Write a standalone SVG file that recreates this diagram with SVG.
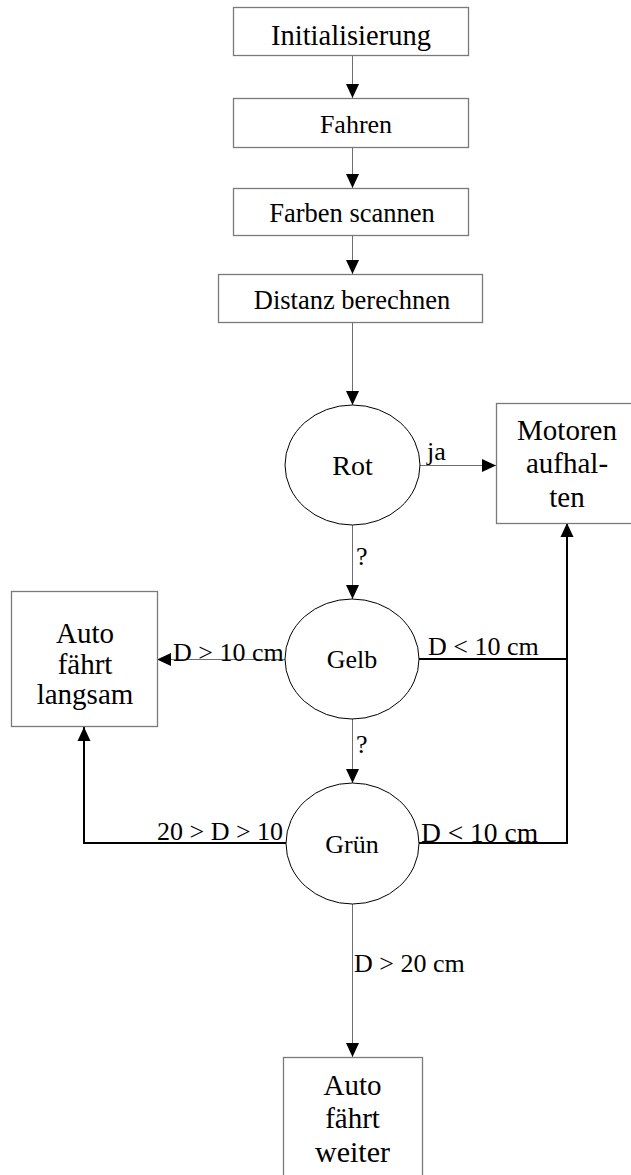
<svg xmlns="http://www.w3.org/2000/svg" width="631" height="1175" viewBox="0 0 631 1175">
<style>
.box{fill:#fff;stroke:#7a7a7a;stroke-width:1.3}
.circ{fill:#fff;stroke:#000;stroke-width:1}
.t{font-family:"Liberation Serif","Times New Roman",serif;fill:#000;text-anchor:middle}
.l{font-family:"Liberation Serif","Times New Roman",serif;fill:#000;font-size:26px}
.thin{fill:none;stroke:#6e6e6e;stroke-width:1}
.thick{fill:none;stroke:#000;stroke-width:2}
</style>
<defs>
<marker id="ah" markerUnits="userSpaceOnUse" markerWidth="14" markerHeight="14" refX="14" refY="7" orient="auto">
<path d="M0,0.5 L14,7 L0,13.5 z" fill="#000"/>
</marker>
</defs>
<rect width="631" height="1175" fill="#fff"/>
<g id="connectors">
<line class="thin" x1="352.5" y1="55" x2="352.5" y2="98" marker-end="url(#ah)"/>
<line class="thin" x1="352.5" y1="148" x2="352.5" y2="188" marker-end="url(#ah)"/>
<line class="thin" x1="352.5" y1="236" x2="352.5" y2="274" marker-end="url(#ah)"/>
<line class="thin" x1="352.5" y1="323" x2="352.5" y2="405" marker-end="url(#ah)"/>
<line class="thin" x1="420" y1="465.5" x2="496" y2="465.5" marker-end="url(#ah)"/>
<line class="thin" x1="352.5" y1="525" x2="352.5" y2="599" marker-end="url(#ah)"/>
<line class="thin" x1="285" y1="659.5" x2="157" y2="659.5" marker-end="url(#ah)"/>
<polyline class="thick" points="419,659 567,659"/>
<line class="thin" x1="352.5" y1="719" x2="352.5" y2="783" marker-end="url(#ah)"/>
<polyline class="thick" points="286,843 84,843 84,727" marker-end="url(#ah)"/>
<polyline class="thick" points="419,843 567,843 567,523" marker-end="url(#ah)"/>
<line class="thin" x1="352.5" y1="904" x2="352.5" y2="1057" marker-end="url(#ah)"/>
<text class="l" x="427" y="460">ja</text>
<text class="l" x="356" y="565">?</text>
<text class="l" x="173" y="661">D &gt; 10 cm</text>
<text class="l" x="428" y="655">D &lt; 10 cm</text>
<text class="l" x="356" y="753">?</text>
<text class="l" x="157" y="840">20 &gt; D &gt; 10</text>
<text class="l" x="421" y="842" style="font-size:27.5px">D &lt; 10 cm</text>
<text class="l" x="354" y="972">D &gt; 20 cm</text>
</g>
<g id="init">
<rect class="box" x="233.5" y="7.5" width="235" height="48"/>
<text class="t" x="351" y="45" font-size="28.5">Initialisierung</text>
</g>
<g id="fahren">
<rect class="box" x="233.5" y="98.5" width="235" height="49"/>
<text class="t" x="356" y="133" font-size="26">Fahren</text>
</g>
<g id="farben">
<rect class="box" x="233.5" y="188.5" width="235" height="47"/>
<text class="t" x="352" y="222" font-size="26.5">Farben scannen</text>
</g>
<g id="distanz">
<rect class="box" x="218.5" y="274.5" width="264" height="48"/>
<text class="t" x="352" y="309" font-size="26.5">Distanz berechnen</text>
</g>
<g id="rot">
<ellipse class="circ" cx="352.5" cy="465" rx="67.5" ry="60"/>
<text class="t" x="352.5" y="475" font-size="28">Rot</text>
</g>
<g id="motoren">
<rect class="box" x="496.5" y="403.5" width="142" height="120"/>
<text class="t" x="567" y="440" font-size="29">Motoren</text>
<text class="t" x="567" y="473" font-size="29">aufhal-</text>
<text class="t" x="567" y="507" font-size="29">ten</text>
</g>
<g id="gelb">
<ellipse class="circ" cx="352" cy="659" rx="67" ry="60"/>
<text class="t" x="352" y="668" font-size="26">Gelb</text>
</g>
<g id="langsam">
<rect class="box" x="11.5" y="591.5" width="146" height="135"/>
<text class="t" x="85" y="643" font-size="29">Auto</text>
<text class="t" x="85" y="674" font-size="29">fährt</text>
<text class="t" x="85" y="704" font-size="29">langsam</text>
</g>
<g id="gruen">
<ellipse class="circ" cx="352.5" cy="843.5" rx="66.5" ry="60.5"/>
<text class="t" x="352" y="853" font-size="26">Grün</text>
</g>
<g id="weiter">
<rect class="box" x="283.5" y="1057.5" width="139" height="130"/>
<text class="t" x="352.5" y="1095" font-size="29">Auto</text>
<text class="t" x="352.5" y="1128" font-size="29">fährt</text>
<text class="t" x="352.5" y="1162" font-size="30">weiter</text>
</g>
</svg>
